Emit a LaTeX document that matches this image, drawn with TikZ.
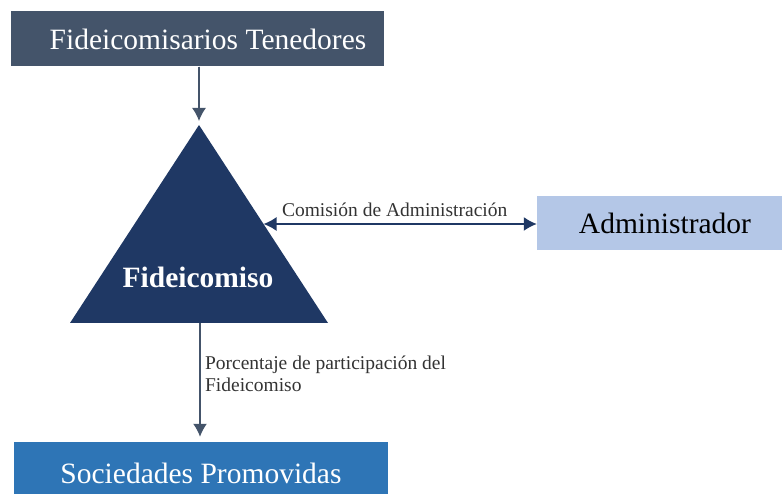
\documentclass[tikz,border=0pt]{standalone}
\usepackage{fontspec}
\setmainfont{Liberation Serif}
\usetikzlibrary{positioning,shapes,arrows,arrows.meta,calc}
\definecolor{slate}{HTML}{44546A}
\definecolor{navy}{HTML}{1F3864}
\definecolor{paleblue}{HTML}{B4C7E7}
\definecolor{midblue}{HTML}{2E75B6}

\begin{document}
\begin{tikzpicture}[
  x=1pt,y=-1pt,
  bigtxt/.style={font=\fontsize{29.5}{33}\selectfont},
  smalltxt/.style={font=\fontsize{19.5}{22}\selectfont},
  mybox/.style={bigtxt,inner sep=0pt,minimum height=55pt},
  myarrow/.style={line width=1.5pt,-{Latex[length=13pt,width=14pt]}}
]
\clip (0,0) rectangle (782,494);
\node[mybox,fill=slate,text=white,minimum width=373pt] (FT) at (197.5,39) {\hspace*{21pt}Fideicomisarios Tenedores};
\node[mybox,fill=paleblue,text=black,minimum width=250pt,minimum height=54pt] (AD) at (662,223) {\hspace*{6pt}Administrador};
\node[mybox,fill=midblue,text=white,minimum width=374pt,minimum height=62pt] (SP) at (201,473) {Sociedades Promovidas};
% triangulo
\coordinate (apex) at (199,125);
\coordinate (bl) at (70,323);
\coordinate (br) at (328,323);
\fill[navy] (apex) -- (br) -- (bl) -- cycle;
\node[text=white,font=\fontsize{29.5}{33}\selectfont\bfseries] (FI) at (198,277) {Fideicomiso};
\coordinate (redge) at ($(apex)!0.5!(br)$);
\coordinate (bmid) at (200,323);
% flechas
\draw[myarrow,draw=slate,fill=slate,shorten >=4pt] (FT.south -| apex) -- (apex);
\draw[line width=1.5pt,navy,{Latex[length=13pt,width=14pt]}-{Latex[length=13pt,width=14pt]}] (redge) -- (AD.west |- redge)
  node[smalltxt,text=black!80,above=3pt,pos=0.48] (CA) {Comisión de Administración};
\draw[myarrow,draw=slate,fill=slate,shorten >=5pt] (bmid) -- (bmid |- SP.north)
  node[smalltxt,text=black!80,right=1pt,align=left,pos=0.43] (PP) {Porcentaje de participación del\\Fideicomiso};
\end{tikzpicture}
\end{document}
